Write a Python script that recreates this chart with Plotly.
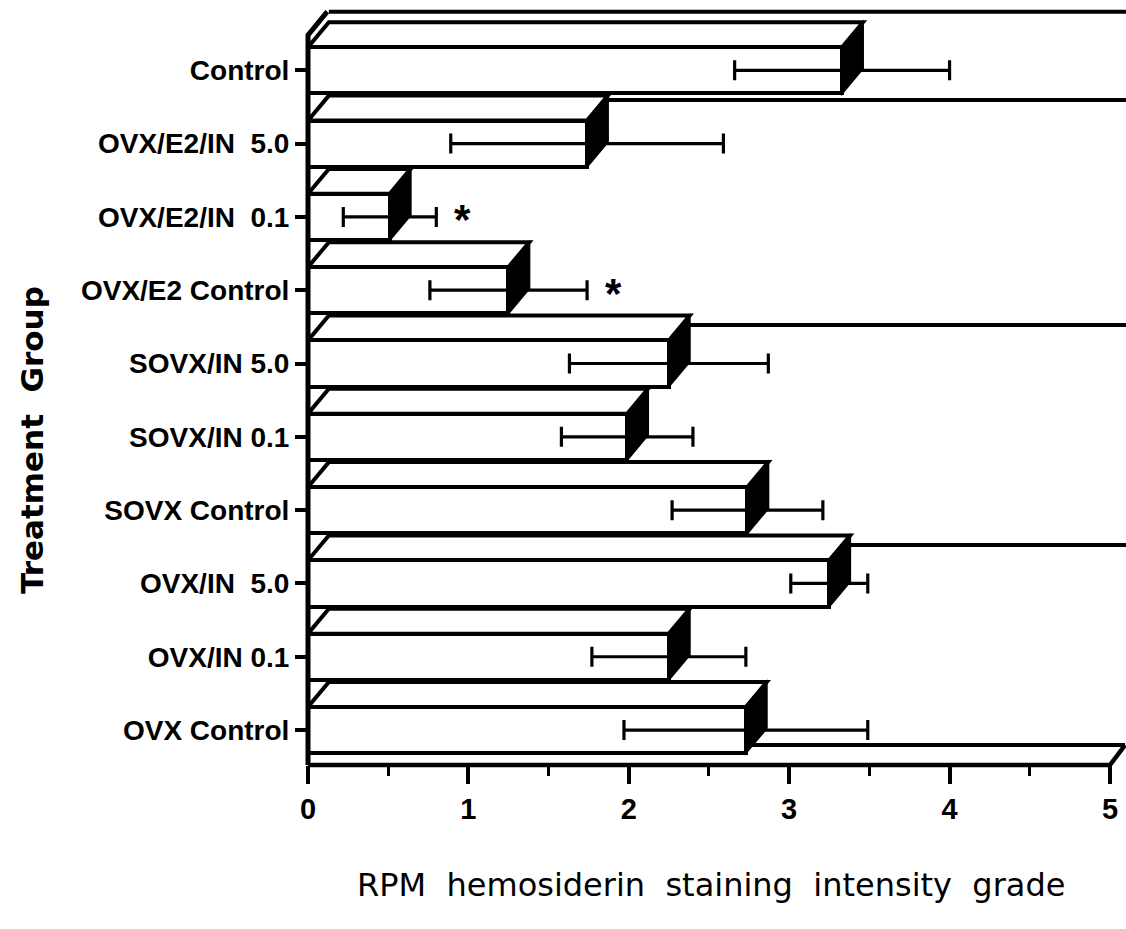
import plotly.graph_objects as go

# ---- data (top to bottom as in the figure) ----
groups = ["Control", "OVX/E2/IN\u00a0 5.0", "OVX/E2/IN\u00a0 0.1", "OVX/E2 Control",
          "SOVX/IN 5.0", "SOVX/IN 0.1", "SOVX Control", "OVX/IN\u00a0 5.0",
          "OVX/IN 0.1", "OVX Control"]
means = [3.33, 1.74, 0.51, 1.25, 2.25, 1.99, 2.74, 3.25, 2.25, 2.73]
errors = [0.67, 0.85, 0.29, 0.49, 0.62, 0.41, 0.47, 0.24, 0.48, 0.76]
significant = [False, False, True, True, False, False, False, False, False, False]
x_ticks = [0, 1, 2, 3, 4, 5]
x_title = "RPM\u00a0 hemosiderin\u00a0 staining\u00a0 intensity\u00a0 grade"
y_title = "Treatment\u00a0 Group"

n = len(groups)
ypos = [n - 1 - k for k in range(n)]

# ---- style constants ----
XMAX = 5.1
YMIN, YMAX = -0.477, 9.85
H = 0.315          # half bar thickness
DX, DY = 0.13, 0.34  # 3-D depth offset of bars (data units)
FDX, FDY = 0.094, 0.272  # floor depth
LW = 4
blk = dict(color="black", width=LW)

fig = go.Figure()
fig.add_trace(go.Bar(
    x=means, y=ypos, orientation="h", width=2 * H,
    marker=dict(color="white", line=dict(color="black", width=LW)),
    error_x=dict(type="data", array=errors, visible=True, color="black",
                 thickness=3.2, width=10),
    hoverinfo="skip", showlegend=False,
))

shapes = []
# back-wall lines
for yb in [9.80, 8.595, 5.525, 2.524]:
    shapes.append(dict(type="line", xref="x", yref="y", x0=DX, x1=XMAX, y0=yb, y1=yb,
                       line=blk, layer="below"))
# floor back line
shapes.append(dict(type="line", xref="x", yref="y", x0=FDX, x1=5 + FDX,
                   y0=YMIN + FDY, y1=YMIN + FDY, line=blk, layer="below"))

# 3-D faces for every bar, bottom bar first
for k in reversed(range(n)):
    v, yc = means[k], ypos[k]
    yt = yc + H
    yb = yc - H
    top = f"M 0,{yt} L {DX},{yt + DY} L {v + DX},{yt + DY} L {v},{yt} Z"
    side = f"M {v},{yb} L {v},{yt} L {v + DX},{yt + DY} L {v + DX},{yb + DY} Z"
    shapes.append(dict(type="path", xref="x", yref="y", path=top,
                       fillcolor="white", line=blk, layer="below"))
    shapes.append(dict(type="path", xref="x", yref="y", path=side,
                       fillcolor="black", line=dict(color="black", width=2), layer="below"))

# left axis line with top-left bevel (x in paper, y in data)
px = lambda xv: xv / XMAX
shapes.append(dict(type="path", xref="paper", yref="y",
                   path=f"M 0,{YMIN} L 0,9.48 L {px(0.12)},9.80",
                   line=dict(color="black", width=5), layer="above"))
# floor front line (x axis) with right bevel (x in data, y in paper)
py = lambda yv: (yv - YMIN) / (YMAX - YMIN)
shapes.append(dict(type="path", xref="x", yref="paper",
                   path=f"M 0,0 L 5,0 L {5 + FDX},{py(YMIN + FDY)}",
                   line=dict(color="black", width=4.5), layer="above"))

annotations = []
for k in range(n):
    if significant[k]:
        annotations.append(dict(x=means[k] + errors[k], y=ypos[k], xref="x", yref="y",
                                text="*", showarrow=False, xanchor="center",
                                xshift=26, yshift=-3,
                                font=dict(family="Liberation Sans, Arial", size=42,
                                          color="black", weight="bold")))
annotations.append(dict(text=x_title, x=(711 - 308) / 818, y=(765 - 885) / 757,
                        xref="paper", yref="paper", showarrow=False,
                        xanchor="center", yanchor="middle",
                        font=dict(family="DejaVu Sans", size=32, color="black")))
annotations.append(dict(text=y_title, x=(32 - 308) / 818, y=(765 - 440) / 757,
                        xref="paper", yref="paper", showarrow=False, textangle=-90,
                        xanchor="center", yanchor="middle",
                        font=dict(family="DejaVu Sans", size=31, color="black",
                                  weight="bold")))

fig.update_layout(
    width=1126, height=929,
    margin=dict(l=308, r=0, t=8, b=164),
    paper_bgcolor="white", plot_bgcolor="white",
    shapes=shapes, annotations=annotations,
    bargap=0, showlegend=False,
    xaxis=dict(range=[0, XMAX], tickmode="array", tickvals=x_ticks,
               ticktext=[str(t) for t in x_ticks],
               ticks="outside", ticklen=18, tickwidth=3.5, tickcolor="black",
               minor=dict(dtick=0.5, tick0=0, ticks="outside", ticklen=10,
                          tickwidth=3, tickcolor="black", showgrid=False),
               showgrid=False, zeroline=False, showline=False,
               tickfont=dict(family="Liberation Sans, Arial", size=29,
                             color="black", weight="bold")),
    yaxis=dict(range=[YMIN, YMAX], tickmode="array", tickvals=ypos, ticktext=groups,
               ticks="outside", ticklen=12, tickwidth=3.5, tickcolor="black",
               showgrid=False, zeroline=False, showline=False,
               tickfont=dict(family="Liberation Sans, Arial", size=28,
                             color="black", weight="bold")),
)

fig.write_html("out.html")
